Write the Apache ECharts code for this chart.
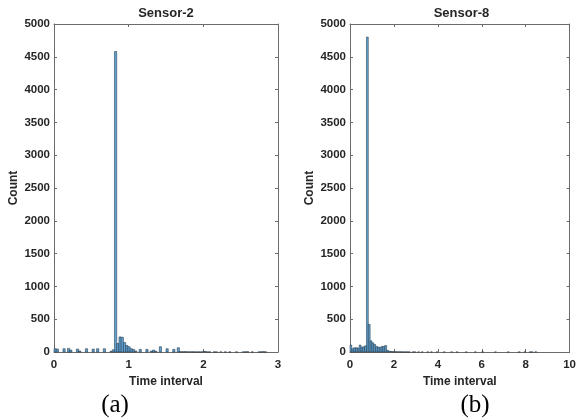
<!DOCTYPE html>
<html>
<head>
<meta charset="utf-8">
<script src="https://cdn.jsdelivr.net/npm/echarts@6/dist/echarts.min.js"></script>
<style>
html,body{margin:0;padding:0;background:#fff;}
#c{width:579px;height:420px;}
</style>
</head>
<body>
<div id="c"></div>
<script>
// ---- data ----
const titles = ['Sensor-2', 'Sensor-8'];
const panelLabels = ['(a)', '(b)'];
const xAxisName = 'Time interval';
const yAxisName = 'Count';
const yTicks = [0, 500, 1000, 1500, 2000, 2500, 3000, 3500, 4000, 4500, 5000];
const xTicksA = [0, 1, 2, 3];
const xTicksB = [0, 2, 4, 6, 8, 10];

// Sensor-2 histogram: bin width 0.03, bin i starts at i*0.03
const binWidthA = 0.03;
const countsA = [
  50, 45, 0, 0, 50, 0, 55, 30, 0, 0,
  45, 15, 0, 0, 50, 0, 0, 45, 0, 50,
  0, 0, 50, 0, 0, 10, 35, 4580, 130, 230,
  225, 145, 100, 80, 50, 40, 15, 0, 40, 0,
  0, 40, 0, 15, 30, 10, 0, 80, 0, 0,
  50, 0, 0, 40, 0, 65, 5, 3, 5, 3,
  2, 3, 2, 1, 2, 1, 3, 8, 1, 2,
  0, 1, 1, 0, 1, 0, 1, 0, 1, 0,
  0, 1, 0, 0, 1, 2, 4, 0, 1, 0,
  0, 1, 2, 5, 1, 0
];

// Sensor-8 histogram: bin width 1/12, bin i starts at i/12
const binWidthB = 1 / 12;
const countsB = [
  105, 50, 65, 65, 60, 105, 75, 80, 95, 4800,
  420, 170, 140, 115, 85, 75, 70, 85, 85, 100,
  25, 12, 8, 5, 3, 4, 2, 3, 2, 1,
  2, 1, 1, 0, 1, 1, 0, 1, 0, 1,
  0, 0, 1, 0, 1, 0, 0, 1, 0, 0,
  0, 1, 0, 0, 0, 1, 0, 0, 1, 0,
  0, 0, 0, 1, 0, 0, 0, 0, 1, 0,
  0, 0, 1, 0, 0, 0, 0, 0, 0, 1,
  0, 0, 0, 0, 0, 0, 1, 0, 0, 0,
  0, 0, 1, 0, 0, 1, 0, 0, 1, 1,
  0, 2
];

// ---- build ----
function toBins(counts, w) {
  const out = [];
  counts.forEach((c, i) => { if (c > 0) out.push([i * w, (i + 1) * w, c]); });
  return out;
}

const AXIS_COLOR = '#6b6b6b';
const TEXT_COLOR = '#262626';
const FONT = 'Liberation Sans, Arial, sans-serif';
const grids = [
  { left: 54, top: 24, width: 224, height: 328 },
  { left: 350, top: 24, width: 223, height: 328 }
];

function renderHist(params, api) {
  const x0 = api.value(0), x1 = api.value(1), c = api.value(2);
  const p0 = api.coord([x0, c]);
  const p1 = api.coord([x1, 0]);
  return {
    type: 'rect',
    shape: { x: p0[0], y: p0[1], width: p1[0] - p0[0], height: p1[1] - p0[1] },
    style: { fill: '#5ea2d6', stroke: '#1d2a35', lineWidth: 0.5 }
  };
}

const plain = v => String(v);
const xRanges = [[0, 3, 1], [0, 10, 2]];
const xAxes = [], yAxes = [], series = [];
[0, 1].forEach(g => {
  const [mn, mx, iv] = xRanges[g];
  xAxes.push({
    type: 'value', gridIndex: g, position: 'bottom', min: mn, max: mx, interval: iv,
    name: xAxisName, nameLocation: 'middle', nameGap: 23,
    nameTextStyle: { fontFamily: FONT, fontWeight: 'bold', fontSize: 12, color: TEXT_COLOR },
    axisLine: { show: true, onZero: false, lineStyle: { color: AXIS_COLOR, width: 1 } },
    axisTick: { show: true, inside: true, length: 3, lineStyle: { color: AXIS_COLOR } },
    axisLabel: { margin: 7, formatter: plain, fontFamily: FONT, fontWeight: 'bold', fontSize: 11.5, color: TEXT_COLOR },
    splitLine: { show: false }
  });
  xAxes.push({
    type: 'value', gridIndex: g, position: 'top', min: mn, max: mx, interval: iv,
    axisLine: { show: true, onZero: false, lineStyle: { color: AXIS_COLOR, width: 1 } },
    axisTick: { show: true, inside: true, length: 3, lineStyle: { color: AXIS_COLOR } },
    axisLabel: { show: false }, splitLine: { show: false }
  });
  yAxes.push({
    type: 'value', gridIndex: g, position: 'left', min: 0, max: 5000, interval: 500,
    name: yAxisName, nameLocation: 'middle', nameGap: 34,
    nameTextStyle: { fontFamily: FONT, fontWeight: 'bold', fontSize: 12, color: TEXT_COLOR },
    axisLine: { show: true, onZero: false, lineStyle: { color: AXIS_COLOR, width: 1 } },
    axisTick: { show: true, inside: true, length: 3, lineStyle: { color: AXIS_COLOR } },
    axisLabel: { margin: 4, formatter: plain, fontFamily: FONT, fontWeight: 'bold', fontSize: 11.5, color: TEXT_COLOR },
    splitLine: { show: false }
  });
  yAxes.push({
    type: 'value', gridIndex: g, position: 'right', min: 0, max: 5000, interval: 500,
    axisLine: { show: true, onZero: false, lineStyle: { color: AXIS_COLOR, width: 1 } },
    axisTick: { show: true, inside: true, length: 3, lineStyle: { color: AXIS_COLOR } },
    axisLabel: { show: false }, splitLine: { show: false }
  });
  series.push({
    type: 'custom', xAxisIndex: g * 2, yAxisIndex: g * 2,
    renderItem: renderHist, encode: { x: [0, 1], y: 2 },
    data: g === 0 ? toBins(countsA, binWidthA) : toBins(countsB, binWidthB),
    silent: true, animation: false
  });
});

const graphics = [];
[0, 1].forEach(g => {
  const cx = grids[g].left + grids[g].width / 2;
  graphics.push({
    type: 'text', x: cx, y: 13,
    style: { text: titles[g], fill: TEXT_COLOR, font: 'bold 13px ' + FONT, textAlign: 'center', textVerticalAlign: 'middle' }
  });
});
graphics.push({ type: 'text', x: 115, y: 405, style: { text: panelLabels[0], fill: '#000', font: '25px Liberation Serif, Times New Roman, serif', textAlign: 'center', textVerticalAlign: 'middle' } });
graphics.push({ type: 'text', x: 475, y: 405, style: { text: panelLabels[1], fill: '#000', font: '25px Liberation Serif, Times New Roman, serif', textAlign: 'center', textVerticalAlign: 'middle' } });

const chart = echarts.init(document.getElementById('c'), null, { renderer: 'canvas' });
chart.setOption({
  animation: false,
  backgroundColor: '#fff',
  grid: grids,
  xAxis: xAxes,
  yAxis: yAxes,
  series: series,
  graphic: graphics
});
</script>
</body>
</html>
